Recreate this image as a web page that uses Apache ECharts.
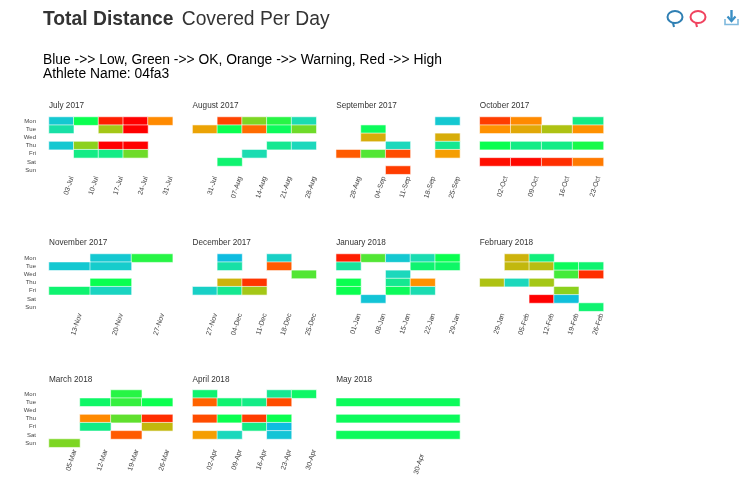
<!DOCTYPE html>
<html><head><meta charset="utf-8">
<script src="https://cdn.jsdelivr.net/npm/echarts@6/dist/echarts.min.js"></script>
<style>html,body{margin:0;padding:0;background:#fff}#c{width:754px;height:488px}</style>
</head><body><div id="c"></div>
<script>
const _ = null;
const days = ['Mon','Tue','Wed','Thu','Fri','Sat','Sun'];
const heatColors = ['#08b0f0','#1cd8bc','#0aff50','#9acc18','#ff9900','#ff4c00','#ff0000'];

const july2017Weeks = ['03-Jul','10-Jul','17-Jul','24-Jul','31-Jul'];
const july2017 = [[3,10,28,30,21],[6,_,15.5,30,_],[_,_,_,_,_],[3,14.5,30,30,_],[_,7.5,7.5,13.5,_],[_,_,_,_,_],[_,_,_,_,_]];
const august2017Weeks = ['31-Jul','07-Aug','14-Aug','21-Aug','28-Aug'];
const august2017 = [[_,25.5,14,11,5.5],[19,10,23,9.5,13.5],[_,_,_,_,_],[_,_,_,7,5],[_,_,5.5,_,_],[_,8.5,_,_,_],[_,_,_,_,_]];
const september2017Weeks = ['28-Aug','04-Sep','11-Sep','18-Sep','25-Sep'];
const september2017 = [[_,_,_,_,3],[_,9.5,_,_,_],[_,18,_,_,18],[_,_,5,_,7],[24,12.5,25,_,19.5],[_,_,_,_,_],[_,_,26,_,_]];
const october2017Weeks = ['02-Oct','09-Oct','16-Oct','23-Oct'];
const october2017 = [[26,21,_,7.5],[20.5,18.5,16,20.5],[_,_,_,_],[10,7.5,7.5,10.5],[_,_,_,_],[29,29.5,27,22],[_,_,_,_]];
const november2017Weeks = ['13-Nov','20-Nov','27-Nov'];
const november2017 = [[_,3,11],[3,3.5,_],[_,_,_],[_,10,_],[8.5,4.5,_],[_,_,_],[_,_,_]];
const december2017Weeks = ['27-Nov','04-Dec','11-Dec','18-Dec','25-Dec'];
const december2017 = [[_,1.5,_,4,_],[_,6,_,24,_],[_,_,_,_,12.5],[_,17.5,26.5,_,_],[4,7,15.5,_,_],[_,_,_,_,_],[_,_,_,_,_]];
const january2018Weeks = ['01-Jan','08-Jan','15-Jan','22-Jan','29-Jan'];
const january2018 = [[28,12.5,3,5.5,10],[6.5,_,_,8.5,9],[_,_,5,_,_],[10,_,7,20.5,_],[10,_,9.5,5.5,_],[_,2.5,_,_,_],[_,_,_,_,_]];
const february2018Weeks = ['29-Jan','05-Feb','12-Feb','19-Feb','26-Feb'];
const february2018 = [[_,17.5,8,_,_],[_,17,16.5,9.5,8.5],[_,_,_,12,27],[16,5,15.5,_,_],[_,_,_,14.5,_],[_,_,30,2,_],[_,_,_,_,8.5]];
const march2018Weeks = ['05-Mar','12-Mar','19-Mar','26-Mar'];
const march2018 = [[_,_,11,_],[_,9,11.5,10],[_,_,_,_],[_,21,13,27],[_,7.5,_,17],[_,_,24,_],[14,_,_,_]];
const april2018Weeks = ['02-Apr','09-Apr','16-Apr','23-Apr','30-Apr'];
const april2018 = [[8.5,_,_,7,9],[23.5,8.5,7.5,25,_],[_,_,_,_,_],[25,10,26,10,_],[_,_,7.5,1.5,_],[19.5,5,_,2.5,_],[_,_,_,_,_]];
const may2018Weeks = ['30-Apr'];
const may2018 = [[_],[9.5],[_],[9.5],[_],[9.5],[_]];

const panels = [
  {name:'July 2017', weeks:july2017Weeks, rows:july2017},
  {name:'August 2017', weeks:august2017Weeks, rows:august2017},
  {name:'September 2017', weeks:september2017Weeks, rows:september2017},
  {name:'October 2017', weeks:october2017Weeks, rows:october2017},
  {name:'November 2017', weeks:november2017Weeks, rows:november2017},
  {name:'December 2017', weeks:december2017Weeks, rows:december2017},
  {name:'January 2018', weeks:january2018Weeks, rows:january2018},
  {name:'February 2018', weeks:february2018Weeks, rows:february2018},
  {name:'March 2018', weeks:march2018Weeks, rows:march2018},
  {name:'April 2018', weeks:april2018Weeks, rows:april2018},
  {name:'May 2018', weeks:may2018Weeks, rows:may2018, labelPad:22}
];

const FONT = '"Liberation Sans", Arial, Helvetica, sans-serif';
const colX = [49, 192.6, 336.2, 479.8], rowY = [117, 254, 390], titleY = [102, 239, 376];
const panelW = 123.7, panelH = 57.2;

const titles = [
  {left:43, top:10, padding:0, text:'{b|Total Distance}{n| Covered Per Day}',
   textStyle:{fontWeight:'normal',rich:{b:{fontFamily:FONT,fontWeight:'bold',fontSize:19.3,color:'#333',padding:[0,3,0,0]},n:{fontFamily:FONT,fontWeight:'normal',fontSize:19.3,color:'#333'}}}},
  {left:43, top:53, padding:0, text:'Blue ->> Low, Green ->> OK, Orange ->> Warning, Red ->> High',
   textStyle:{fontFamily:FONT,fontWeight:'normal',fontSize:13.85,color:'#000'}},
  {left:43, top:67, padding:0, text:'Athlete Name: 04fa3',
   textStyle:{fontFamily:FONT,fontWeight:'normal',fontSize:13.85,color:'#000'}}
];
const grids=[], xAxes=[], yAxes=[], series=[];
panels.forEach((p,i)=>{
  const row = Math.floor(i/4), cx = colX[i%4], cy = rowY[row];
  titles.push({left:cx, top:titleY[row], padding:0, text:p.name, textStyle:{fontFamily:FONT,fontWeight:'normal',fontSize:8.2,color:'#333'}});
  grids.push({left:cx, top:cy, width:panelW, height:panelH, containLabel:false});
  xAxes.push({type:'category', gridIndex:i, data:p.weeks, axisLine:{show:false}, axisTick:{show:false}, splitLine:{show:false},
    axisLabel:{interval:0, rotate:72, fontSize:7, fontFamily:FONT, color:'#444', margin:-1, align:'right', verticalAlign:'top',
      padding:[p.labelPad||7.5,0,0,0], hideOverlap:false}});
  yAxes.push({type:'category', gridIndex:i, inverse:true, data:days, axisLine:{show:false}, axisTick:{show:false}, splitLine:{show:false},
    axisLabel:{show:i%4===0, interval:0, fontSize:6, fontFamily:FONT, color:'#444', margin:13}});
  const data=[];
  p.rows.forEach((r,ri)=>r.forEach((v,c)=>{ if(v!==null) data.push([c,ri,v]); }));
  series.push({type:'heatmap', xAxisIndex:i, yAxisIndex:i, data:data,
    itemStyle:{borderColor:'rgba(255,255,255,0.6)', borderWidth:1}, emphasis:{disabled:true}});
});

const blue='#2f7fb3', red='#f0435f', dl='#3a8fc4';
const chart = echarts.init(document.getElementById('c'), null, {renderer:'canvas'});
chart.setOption({
  animation:false, backgroundColor:'#fff',
  title:titles, grid:grids, xAxis:xAxes, yAxis:yAxes, series:series,
  visualMap:{type:'continuous', min:0, max:30, show:false, seriesIndex:series.map((s,i)=>i), inRange:{color:heatColors}},
  graphic:[
    {type:'ellipse',shape:{cx:675,cy:17,rx:7.5,ry:6},style:{fill:'none',stroke:blue,lineWidth:2}},
    {type:'polyline',shape:{points:[[673,23],[674,27]]},style:{stroke:blue,lineWidth:2,fill:'none'}},
    {type:'ellipse',shape:{cx:698,cy:17,rx:7.5,ry:6},style:{fill:'none',stroke:red,lineWidth:2}},
    {type:'polyline',shape:{points:[[696,23],[697,27]]},style:{stroke:red,lineWidth:2,fill:'none'}},
    {type:'polyline',shape:{points:[[725,19],[725,24.5],[738,24.5],[738,19]]},style:{stroke:'#7fb9dd',lineWidth:1.6,fill:'none'}},
    {type:'polyline',shape:{points:[[731.5,10],[731.5,20]]},style:{stroke:dl,lineWidth:2.4,fill:'none'}},
    {type:'polyline',shape:{points:[[727.5,16.5],[731.5,21],[735.5,16.5]]},style:{stroke:dl,lineWidth:2.2,fill:'none'}}
  ]
});
</script></body></html>
